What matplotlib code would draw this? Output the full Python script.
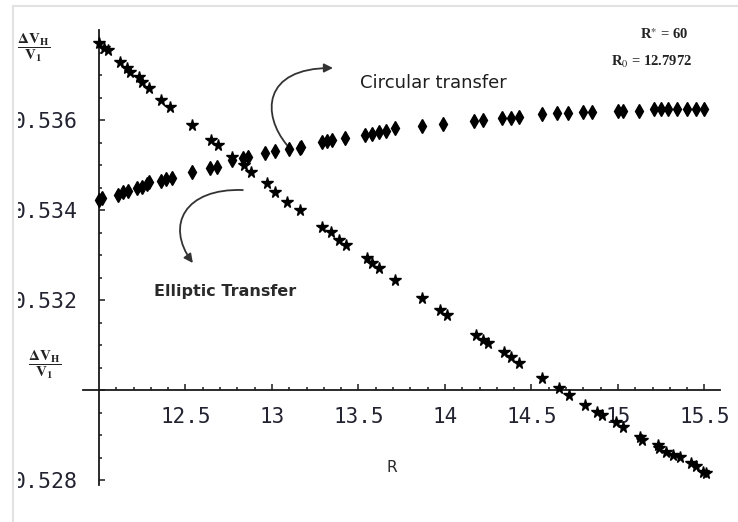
import matplotlib
matplotlib.use("Agg")
import matplotlib.pyplot as plt
from matplotlib.patches import FancyArrowPatch, Rectangle
from matplotlib.path import Path

# circular transfer (diamond marks)
circ_R = [12.00, 12.02, 12.11, 12.14, 12.17, 12.22, 12.25, 12.28, 12.29, 12.36,
          12.39, 12.42, 12.54, 12.64, 12.68, 12.77, 12.83, 12.86, 12.96, 13.02,
          13.10, 13.16, 13.17, 13.29, 13.32, 13.35, 13.42, 13.54, 13.58, 13.62,
          13.66, 13.71, 13.87, 13.99, 14.17, 14.22, 14.33, 14.38, 14.43, 14.56,
          14.65, 14.71, 14.80, 14.85, 15.00, 15.03, 15.12, 15.21, 15.25, 15.29,
          15.34, 15.40, 15.45, 15.50]
circ_dv = [0.53422, 0.53427, 0.53433, 0.53440, 0.53442, 0.53449, 0.53451, 0.53458,
           0.53462, 0.53464, 0.53469, 0.53471, 0.53484, 0.53493, 0.53496, 0.53511,
           0.53516, 0.53518, 0.53527, 0.53531, 0.53536, 0.53538, 0.53540, 0.53551,
           0.53553, 0.53556, 0.53560, 0.53567, 0.53569, 0.53573, 0.53576, 0.53582,
           0.53587, 0.53591, 0.53598, 0.53600, 0.53604, 0.53604, 0.53607, 0.53613,
           0.53616, 0.53616, 0.53618, 0.53618, 0.53620, 0.53620, 0.53620, 0.53624,
           0.53624, 0.53624, 0.53624, 0.53624, 0.53624, 0.53624]

# elliptic transfer (star marks)
ell_R = [12.00, 12.03, 12.05, 12.12, 12.16, 12.18, 12.23, 12.25, 12.29, 12.36,
         12.41, 12.54, 12.65, 12.69, 12.77, 12.84, 12.88, 12.97, 13.02, 13.09,
         13.16, 13.29, 13.34, 13.39, 13.43, 13.55, 13.58, 13.62, 13.71, 13.87,
         13.97, 14.01, 14.18, 14.22, 14.25, 14.34, 14.38, 14.43, 14.56, 14.66,
         14.72, 14.81, 14.88, 14.91, 14.99, 15.03, 15.13, 15.14, 15.23, 15.24,
         15.28, 15.32, 15.36, 15.42, 15.45, 15.49, 15.51]
ell_dv = [0.53771, 0.53760, 0.53756, 0.53729, 0.53716, 0.53707, 0.53696, 0.53684,
          0.53671, 0.53644, 0.53629, 0.53589, 0.53556, 0.53544, 0.53518, 0.53500,
          0.53484, 0.53460, 0.53440, 0.53418, 0.53400, 0.53362, 0.53351, 0.53333,
          0.53322, 0.53293, 0.53282, 0.53271, 0.53244, 0.53204, 0.53178, 0.53167,
          0.53122, 0.53111, 0.53104, 0.53084, 0.53073, 0.53060, 0.53027, 0.53004,
          0.52989, 0.52967, 0.52951, 0.52944, 0.52929, 0.52918, 0.52896, 0.52889,
          0.52878, 0.52871, 0.52862, 0.52856, 0.52851, 0.52838, 0.52831, 0.52818,
          0.52816]

x_ticks = [12.5, 13, 13.5, 14, 14.5, 15, 15.5]
x_labels = ["12.5", "13", "13.5", "14", "14.5", "15", "15.5"]
y_ticks = [0.528, 0.530, 0.532, 0.534, 0.536]
y_labels = ["0.528", "", "0.532", "0.534", "0.536"]

plt.rcParams['mathtext.fontset'] = 'stix'

fig = plt.figure(figsize=(7.38, 5.22), dpi=100)
W, H = 738, 522
ax = fig.add_axes([83 / W, 37 / H, (720 - 83) / W, (485 - 30) / H])
ax.set_xlim(11.908, 15.590)
ax.set_ylim(0.52789, 0.538)

ax.plot(circ_R, circ_dv, 'd', color='black', markersize=7.5, zorder=3)
ax.plot(ell_R, ell_dv, '*', color='black', markersize=8.5, zorder=3)

for s in ['top', 'right']:
    ax.spines[s].set_visible(False)
ax.spines['left'].set_position(('data', 12.0))
ax.spines['bottom'].set_position(('data', 0.530))
for s in ['left', 'bottom']:
    ax.spines[s].set_linewidth(1.3)
    ax.spines[s].set_color('#1a1a1a')

ax.set_xticks(x_ticks)
ax.set_xticklabels(x_labels)
ax.set_xticks([12.1 + 0.1 * i for i in range(35)], minor=True)
ax.set_yticks(y_ticks)
ax.set_yticklabels(y_labels)
ax.set_yticks([0.528 + 0.0005 * i for i in range(20)], minor=True)
ax.tick_params(which='both', direction='in', color='#1a1a1a', width=1.1)
ax.tick_params(which='major', length=4)
ax.tick_params(which='minor', length=2.5)
ax.tick_params(axis='x', which='major', pad=12, labelsize=15, labelcolor='#222230')
ax.tick_params(axis='y', which='major', pad=15, labelsize=15.5, labelcolor='#222230')
for lab in ax.get_xticklabels() + ax.get_yticklabels():
    lab.set_family('DejaVu Sans Mono')

# curved arrows
arrows = [
    [(13.087, 0.535444), (12.942, 0.536111), (12.942, 0.537156), (13.353, 0.537156)],
    [(12.832, 0.534444), (12.497, 0.534489), (12.382, 0.533667), (12.543, 0.532822)],
]
for pts in arrows:
    path = Path(pts, [Path.MOVETO, Path.CURVE4, Path.CURVE4, Path.CURVE4])
    arr = FancyArrowPatch(path=path, arrowstyle='-|>', mutation_scale=13,
                          color='#333333', linewidth=1.3, transform=ax.transData)
    ax.add_patch(arr)

ax.text(13.51, 0.536822, "Circular transfer", fontsize=13, color='#1e1e1e',
        va='center', ha='left')
ax.text(12.32, 0.53220, "Elliptic Transfer", fontsize=11.5, color='#2a2a2a',
        fontweight='bold', va='center', ha='left')
ax.text(13.694, 0.52827, "R", fontsize=11, color='#2a2a2a', ha='center', va='center')

fig.text(664 / W, 1 - 35 / H, r"R$^{\ast}$ = 60", fontsize=10.5, family='Liberation Serif',
         fontweight='bold', ha='center', va='center', color='#222')
fig.text(651 / W, 1 - 62 / H, r"R$_0$ = 12.7972", fontsize=10.5, family='Liberation Serif',
         fontweight='bold', ha='center', va='center', color='#222')

frac = r"$\dfrac{\mathbf{\Delta V_H}}{\mathbf{V_1}}$"
fig.text(34 / W, 1 - 48 / H, frac, fontsize=11, ha='center', va='center', color='#222')
fig.text(45 / W, 1 - 365 / H, frac, fontsize=11, ha='center', va='center', color='#222')

# screenshot frame: clipped left edge and light border lines
fig.add_artist(Rectangle((0, 0), 18 / W, 1, transform=fig.transFigure,
                         facecolor='white', edgecolor='none', zorder=10))
fig.add_artist(plt.Line2D([13 / W, 13 / W], [0, 1 - 6 / H], transform=fig.transFigure,
                          color='#e2e2e2', linewidth=1.5, zorder=11))
fig.add_artist(plt.Line2D([13 / W, 1], [1 - 6 / H, 1 - 6 / H], transform=fig.transFigure,
                          color='#e2e2e2', linewidth=1.5, zorder=11))

fig.savefig("out.png", dpi=100)
